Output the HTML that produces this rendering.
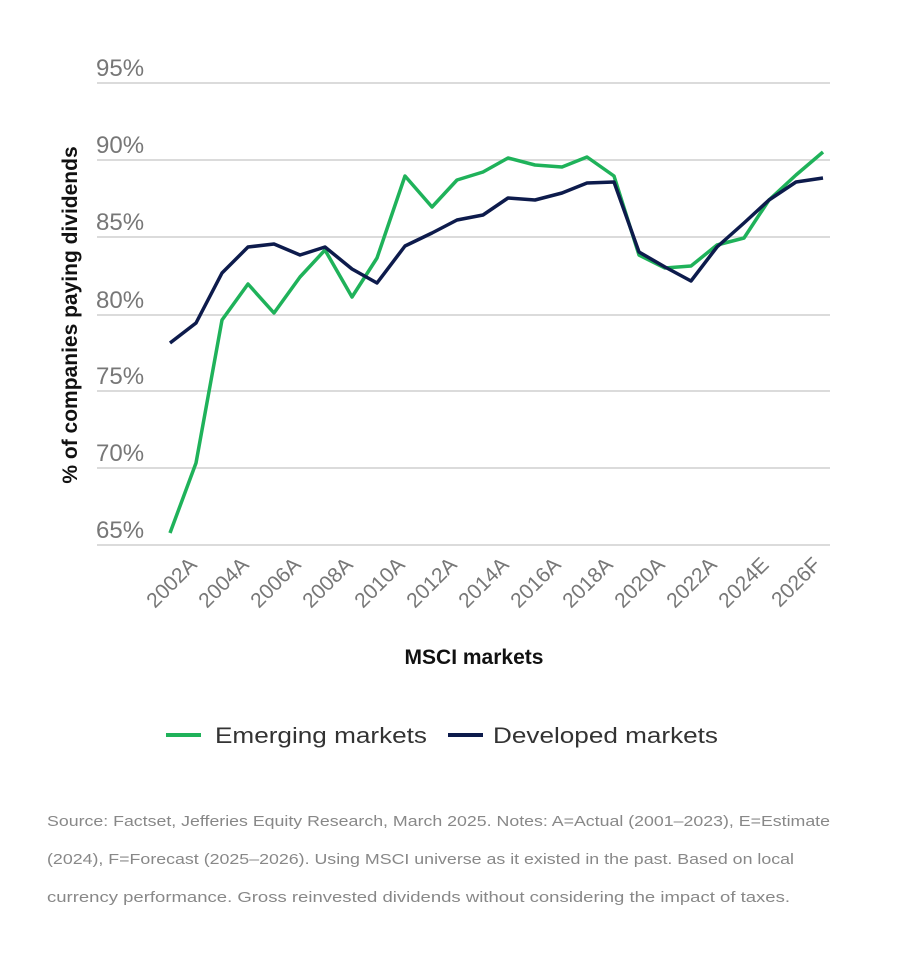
<!DOCTYPE html>
<html><head><meta charset="utf-8"><style>
body{margin:0;background:#fff;width:900px;height:963px;overflow:hidden;font-family:"Liberation Sans",sans-serif}
</style></head><body>
<svg width="900" height="963" xmlns="http://www.w3.org/2000/svg" font-family="Liberation Sans, sans-serif">
<g stroke="#cfcfcf" stroke-width="1.5">
<line x1="97" x2="830" y1="83" y2="83"/><line x1="97" x2="830" y1="160" y2="160"/><line x1="97" x2="830" y1="237" y2="237"/><line x1="97" x2="830" y1="315" y2="315"/><line x1="97" x2="830" y1="391" y2="391"/><line x1="97" x2="830" y1="468" y2="468"/><line x1="97" x2="830" y1="545" y2="545"/>
</g>
<g fill="#777" font-size="24">
<text x="96" y="76">95%</text><text x="96" y="153">90%</text><text x="96" y="230">85%</text><text x="96" y="308">80%</text><text x="96" y="384">75%</text><text x="96" y="461">70%</text><text x="96" y="538">65%</text>
</g>
<text transform="translate(77,315) rotate(-90)" text-anchor="middle" font-size="21" font-weight="bold" fill="#111">% of companies paying dividends</text>
<polyline fill="none" stroke="#1fb25a" stroke-width="3.5" stroke-linejoin="round" points="170,533 196,463 222,320 248,284 274,313 300,277 325,250 352,297 377,258 405,176 432,207 457,180 483,172 508,158 535,165 562,167 587,157 614,176 639,255 665,268 691,266 717,245 744,238 769,200 796,175 823,152"/>
<polyline fill="none" stroke="#0d1b4c" stroke-width="3.5" stroke-linejoin="round" points="170,343 196,323 222,273 248,247 274,244 300,255 325,247 352,269 377,283 405,246 432,233 457,220 483,215 508,198 535,200 562,193 587,183 614,182 639,252 665,267 691,281 717,247 744,223 769,200 796,182 823,178"/>
<g fill="#777" font-size="21" text-anchor="end">
<text transform="translate(198,566) rotate(-45)">2002A</text>
<text transform="translate(250,566) rotate(-45)">2004A</text>
<text transform="translate(302,566) rotate(-45)">2006A</text>
<text transform="translate(354,566) rotate(-45)">2008A</text>
<text transform="translate(406,566) rotate(-45)">2010A</text>
<text transform="translate(458,566) rotate(-45)">2012A</text>
<text transform="translate(510,566) rotate(-45)">2014A</text>
<text transform="translate(562,566) rotate(-45)">2016A</text>
<text transform="translate(614,566) rotate(-45)">2018A</text>
<text transform="translate(666,566) rotate(-45)">2020A</text>
<text transform="translate(718,566) rotate(-45)">2022A</text>
<text transform="translate(770,566) rotate(-45)">2024E</text>
<text transform="translate(822,566) rotate(-45)">2026F</text>
</g>
<text x="474" y="664" text-anchor="middle" font-size="21" font-weight="bold" fill="#111">MSCI markets</text>
<line x1="166" x2="201" y1="735" y2="735" stroke="#1fb25a" stroke-width="4"/>
<text x="215" y="743" font-size="22" fill="#333" textLength="212" lengthAdjust="spacingAndGlyphs">Emerging markets</text>
<line x1="448" x2="483" y1="735" y2="735" stroke="#0d1b4c" stroke-width="4"/>
<text x="493" y="743" font-size="22" fill="#333" textLength="225" lengthAdjust="spacingAndGlyphs">Developed markets</text>
<g fill="#888" font-size="14.5">
<text x="47" y="826" textLength="783" lengthAdjust="spacingAndGlyphs">Source: Factset, Jefferies Equity Research, March 2025. Notes: A=Actual (2001–2023), E=Estimate</text>
<text x="47" y="864" textLength="747" lengthAdjust="spacingAndGlyphs">(2024), F=Forecast (2025–2026). Using MSCI universe as it existed in the past. Based on local</text>
<text x="47" y="902" textLength="743" lengthAdjust="spacingAndGlyphs">currency performance. Gross reinvested dividends without considering the impact of taxes.</text>
</g>
</svg>
</body></html>
